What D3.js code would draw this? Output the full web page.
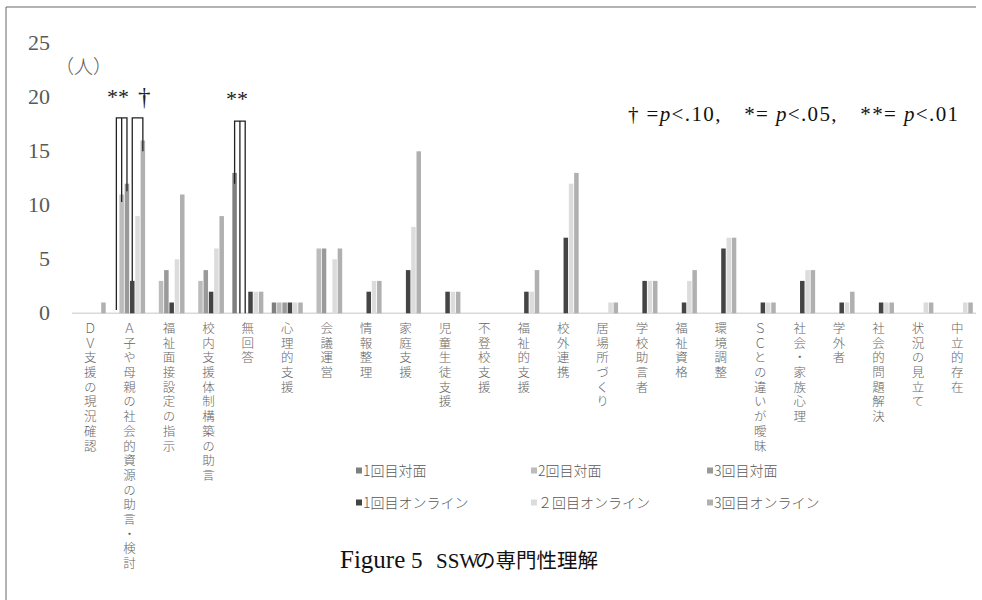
<!DOCTYPE html>
<html>
<head>
<meta charset="utf-8">
<script src="https://cdn.jsdelivr.net/npm/d3@7"></script>
<style>
  body { margin: 0; background: #fff; }
  svg { display: block; }
</style>
</head>
<body>
<svg id="chart" width="982" height="600"></svg>
<script>
const categories = [
  "ＤＶ支援の現況確認", "Ａ子や母親の社会的資源の助言・検討", "福祉面接設定の指示",
  "校内支援体制構築の助言", "無回答", "心理的支援", "会議運営", "情報整理", "家庭支援",
  "児童生徒支援", "不登校支援", "福祉的支援", "校外連携", "居場所づくり", "学校助言者",
  "福祉資格", "環境調整", "ＳＣとの違いが曖昧", "社会・家族心理", "学外者",
  "社会的問題解決", "状況の見立て", "中立的存在"
];
const seriesNames = ["1回目対面", "2回目対面", "3回目対面", "1回目オンライン", "２回目オンライン", "3回目オンライン"];
const seriesColors = ["#7f7f7f", "#bcbcbc", "#9a9a9a", "#444444", "#dcdcdc", "#b0b0b0"];

const face1   = [0, 0, 0, 0, 13, 1, 0, 0, 0, 0, 0, 0, 0, 0, 0, 0, 0, 0, 0, 0, 0, 0, 0];
const face2   = [0, 11, 3, 3, 0, 1, 6, 0, 0, 0, 0, 0, 0, 0, 0, 0, 0, 0, 0, 0, 0, 0, 0];
const face3   = [0, 12, 4, 4, 0, 1, 6, 0, 0, 0, 0, 0, 0, 0, 0, 0, 0, 0, 0, 0, 0, 0, 0];
const online1 = [0, 3, 1, 2, 2, 1, 0, 2, 4, 2, 0, 2, 7, 0, 3, 1, 6, 1, 3, 1, 1, 0, 0];
const online2 = [0, 9, 5, 6, 2, 1, 5, 3, 8, 2, 0, 2, 12, 1, 3, 3, 7, 1, 4, 1, 1, 1, 1];
const online3 = [1, 16, 11, 9, 2, 1, 6, 3, 15, 2, 0, 4, 13, 1, 3, 4, 7, 1, 4, 2, 1, 1, 1];
const seriesValues = [face1, face2, face3, online1, online2, online3];

const yTicks = [0, 5, 10, 15, 20, 25];

// significance brackets: category index, legs [series index, value], top value
const brackets = [
  {cat: 1, legs: [[0, 0.3], [1, 10.3], [2, 11.3]], top: 18.1},
  {cat: 1, legs: [[3, 3], [5, 15]], top: 18.1},
  {cat: 4, legs: [[0, 12], [1, 0], [2, 0]], top: 17.8}
];
const marks = [
  {text: "**", x: 107, y: 104, size: 22},
  {text: "†", x: 138, y: 105, size: 25},
  {text: "**", x: 226, y: 106, size: 22}
];

const serif = "'Liberation Serif', 'DejaVu Serif', serif";
const cjk = "'Noto Sans CJK JP', sans-serif";

const svg = d3.select("#chart");

// frame (top and left only visible)
svg.append("path")
  .attr("d", "M6,600V7H976")
  .attr("fill", "none")
  .attr("stroke", "#666")
  .attr("stroke-width", 1);

const x0 = d3.scaleBand()
  .domain(categories)
  .range([70.5, 977]);

const x1 = d3.scaleBand()
  .domain(seriesNames)
  .range([4.2, 35.2])
  .paddingInner(0.15);

const y = d3.scaleLinear()
  .domain([0, 25])
  .range([313.3, 43.3]);

// y axis
const yAxis = d3.axisLeft(y).tickValues(yTicks).tickSize(0).tickPadding(4);
const yg = svg.append("g")
  .attr("transform", "translate(54,0)")
  .call(yAxis);
yg.select(".domain").remove();
yg.selectAll("text")
  .attr("font-family", serif)
  .attr("font-size", 22)
  .attr("fill", "#595959")
  .attr("dy", "0.3em");

// baseline
svg.append("line")
  .attr("x1", 72).attr("x2", 976)
  .attr("y1", y(0)).attr("y2", y(0))
  .attr("stroke", "#d9d9d9")
  .attr("stroke-width", 1.5);

// bars
const groups = svg.append("g").selectAll("g")
  .data(categories)
  .enter().append("g")
  .attr("transform", (d) => `translate(${x0(d)},0)`);

groups.selectAll("rect")
  .data((d, i) => seriesNames.map((s, j) => ({s: s, j: j, v: seriesValues[j][i]})))
  .enter().append("rect")
  .attr("x", (d) => x1(d.s))
  .attr("y", (d) => y(d.v))
  .attr("width", x1.bandwidth())
  .attr("height", (d) => y(0) - y(d.v))
  .attr("fill", (d) => seriesColors[d.j]);

// category labels (vertical)
groups.append("text")
  .attr("x", x0.bandwidth() / 2)
  .attr("y", 322)
  .attr("writing-mode", "vertical-rl")
  .style("text-orientation", "upright")
  .attr("font-family", cjk)
  .attr("font-size", 12.5)
  .attr("font-weight", 300)
  .attr("letter-spacing", 2.2)
  .attr("fill", "#666")
  .text((d) => d);

// brackets
const bx = (cat, s) => x0(categories[cat]) + x1(seriesNames[s]) + x1.bandwidth() / 2;
brackets.forEach((b) => {
  const first = b.legs[0], last = b.legs[b.legs.length - 1];
  let d = `M${bx(b.cat, first[0])},${y(first[1])}V${y(b.top)}H${bx(b.cat, last[0])}V${y(last[1])}`;
  b.legs.slice(1, -1).forEach((l) => {
    d += `M${bx(b.cat, l[0])},${y(b.top)}V${y(l[1])}`;
  });
  svg.append("path")
    .attr("d", d)
    .attr("fill", "none")
    .attr("stroke", "#222")
    .attr("stroke-width", 1.3);
});

svg.selectAll(".mark")
  .data(marks)
  .enter().append("text")
  .attr("class", "mark")
  .attr("x", (d) => d.x)
  .attr("y", (d) => d.y)
  .attr("font-family", serif)
  .attr("font-size", (d) => d.size)
  .attr("fill", "#222")
  .text((d) => d.text);

// unit label
svg.append("text")
  .attr("x", 55).attr("y", 74)
  .attr("font-family", cjk)
  .attr("font-size", 19)
  .attr("font-weight", 300)
  .attr("fill", "#595959")
  .text("（人）");

// significance key
const key = svg.append("text")
  .attr("x", 628).attr("y", 121)
  .attr("font-family", serif)
  .attr("font-size", 21)
  .attr("fill", "#111")
  .attr("textLength", 330)
  .attr("lengthAdjust", "spacing");
[["† =", false], ["p", true], ["<.10,　*= ", false], ["p", true], ["<.05,　**= ", false], ["p", true], ["<.01", false]]
  .forEach((t) => {
    key.append("tspan")
      .attr("font-style", t[1] ? "italic" : "normal")
      .text(t[0]);
  });

// legend
const legendCols = [356, 531, 707];
const legendRows = [471, 503];
const legend = svg.append("g").selectAll("g")
  .data(seriesNames)
  .enter().append("g")
  .attr("transform", (d, i) => `translate(${legendCols[i % 3]},${legendRows[Math.floor(i / 3)]})`);
legend.append("rect")
  .attr("x", 0).attr("y", -3.5)
  .attr("width", 6).attr("height", 6)
  .attr("fill", (d, i) => seriesColors[i]);
legend.append("text")
  .attr("x", 7)
  .attr("dy", "0.35em")
  .attr("font-family", cjk)
  .attr("font-size", 14)
  .attr("font-weight", 300)
  .attr("fill", "#595959")
  .text((d) => d);

// title, one text element with pieces
const title = svg.append("text")
  .attr("y", 568)
  .attr("fill", "#111");
title.append("tspan")
  .attr("x", 340)
  .attr("font-family", serif)
  .attr("font-size", 25)
  .text("Figure");
title.append("tspan")
  .attr("x", 411)
  .attr("font-family", serif)
  .attr("font-size", 23)
  .text("5");
title.append("tspan")
  .attr("x", 436)
  .attr("font-family", serif)
  .attr("font-size", 21)
  .text("SSW");
title.append("tspan")
  .attr("x", 475)
  .attr("font-family", cjk)
  .attr("font-size", 20.5)
  .text("の専門性理解");
</script>
</body>
</html>
